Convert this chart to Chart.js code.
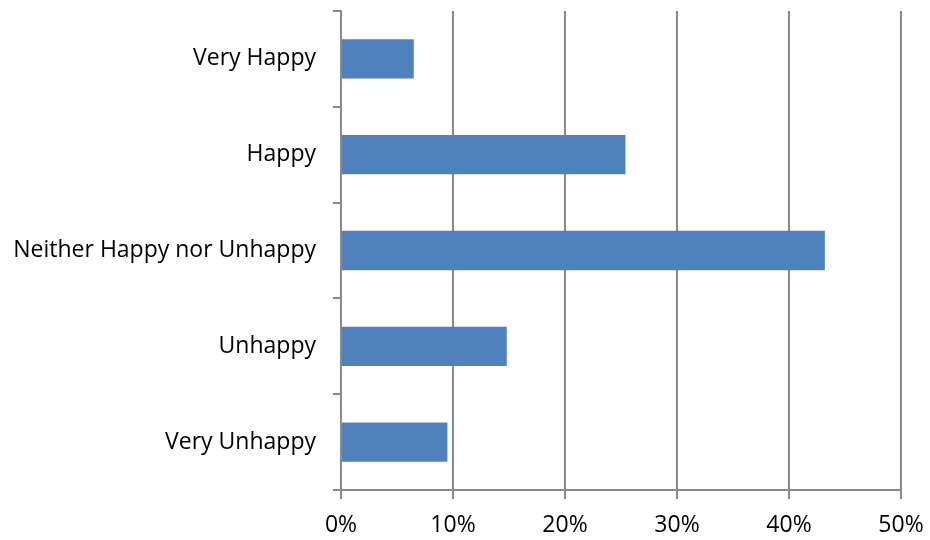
<!DOCTYPE html>
<html>
<head>
<meta charset="utf-8">
<script src="https://cdn.jsdelivr.net/npm/chart.js@4/dist/chart.umd.min.js"></script>
<style>
  html, body { margin: 0; padding: 0; background: #fff; }
  #wrap { width: 930px; height: 540px; }
</style>
</head>
<body>
<div id="wrap"><canvas id="chart" width="930" height="540"></canvas></div>
<script>
const categories = ['Very Happy', 'Happy', 'Neither Happy nor Unhappy', 'Unhappy', 'Very Unhappy']
const shares = [6.5, 25.4, 43.2, 14.8, 9.5]
const xTicks = [0, 10, 20, 30, 40, 50]

const gridGray = '#898989'
const font = { family: "'Open Sans', sans-serif", size: 23 }

new Chart(document.getElementById('chart'), {
  type: 'bar',
  data: {
    labels: categories,
    datasets: [{
      data: shares,
      backgroundColor: '#4f81bd',
      borderWidth: 0,
      categoryPercentage: 1,
      barPercentage: 0.41
    }]
  },
  options: {
    indexAxis: 'y',
    responsive: false,
    animation: false,
    layout: { padding: { top: 11, right: 29, left: 0, bottom: 0 } },
    plugins: { legend: { display: false }, tooltip: { enabled: false } },
    scales: {
      x: {
        min: 0,
        max: 50,
        afterBuildTicks: (scale) => { scale.ticks = xTicks.map(v => ({ value: v })) },
        afterFit: (scale) => {
          scale.height = 50
          scale.paddingLeft = 0
          scale.paddingRight = 0
        },
        grid: { color: gridGray, lineWidth: 2, tickLength: 9, drawOnChartArea: true },
        border: { color: gridGray, width: 2 },
        ticks: { color: '#000', font, padding: 13, callback: v => v + '%', maxRotation: 0 }
      },
      y: {
        afterFit: (scale) => {
          scale.width = 341
          scale.paddingTop = 0
          scale.paddingBottom = 0
        },
        grid: { color: gridGray, lineWidth: 2, tickLength: 8, drawOnChartArea: false, offset: true },
        border: { color: gridGray, width: 2 },
        ticks: { color: '#000', font, padding: 17 }
      }
    }
  }
})
</script>
</body>
</html>
